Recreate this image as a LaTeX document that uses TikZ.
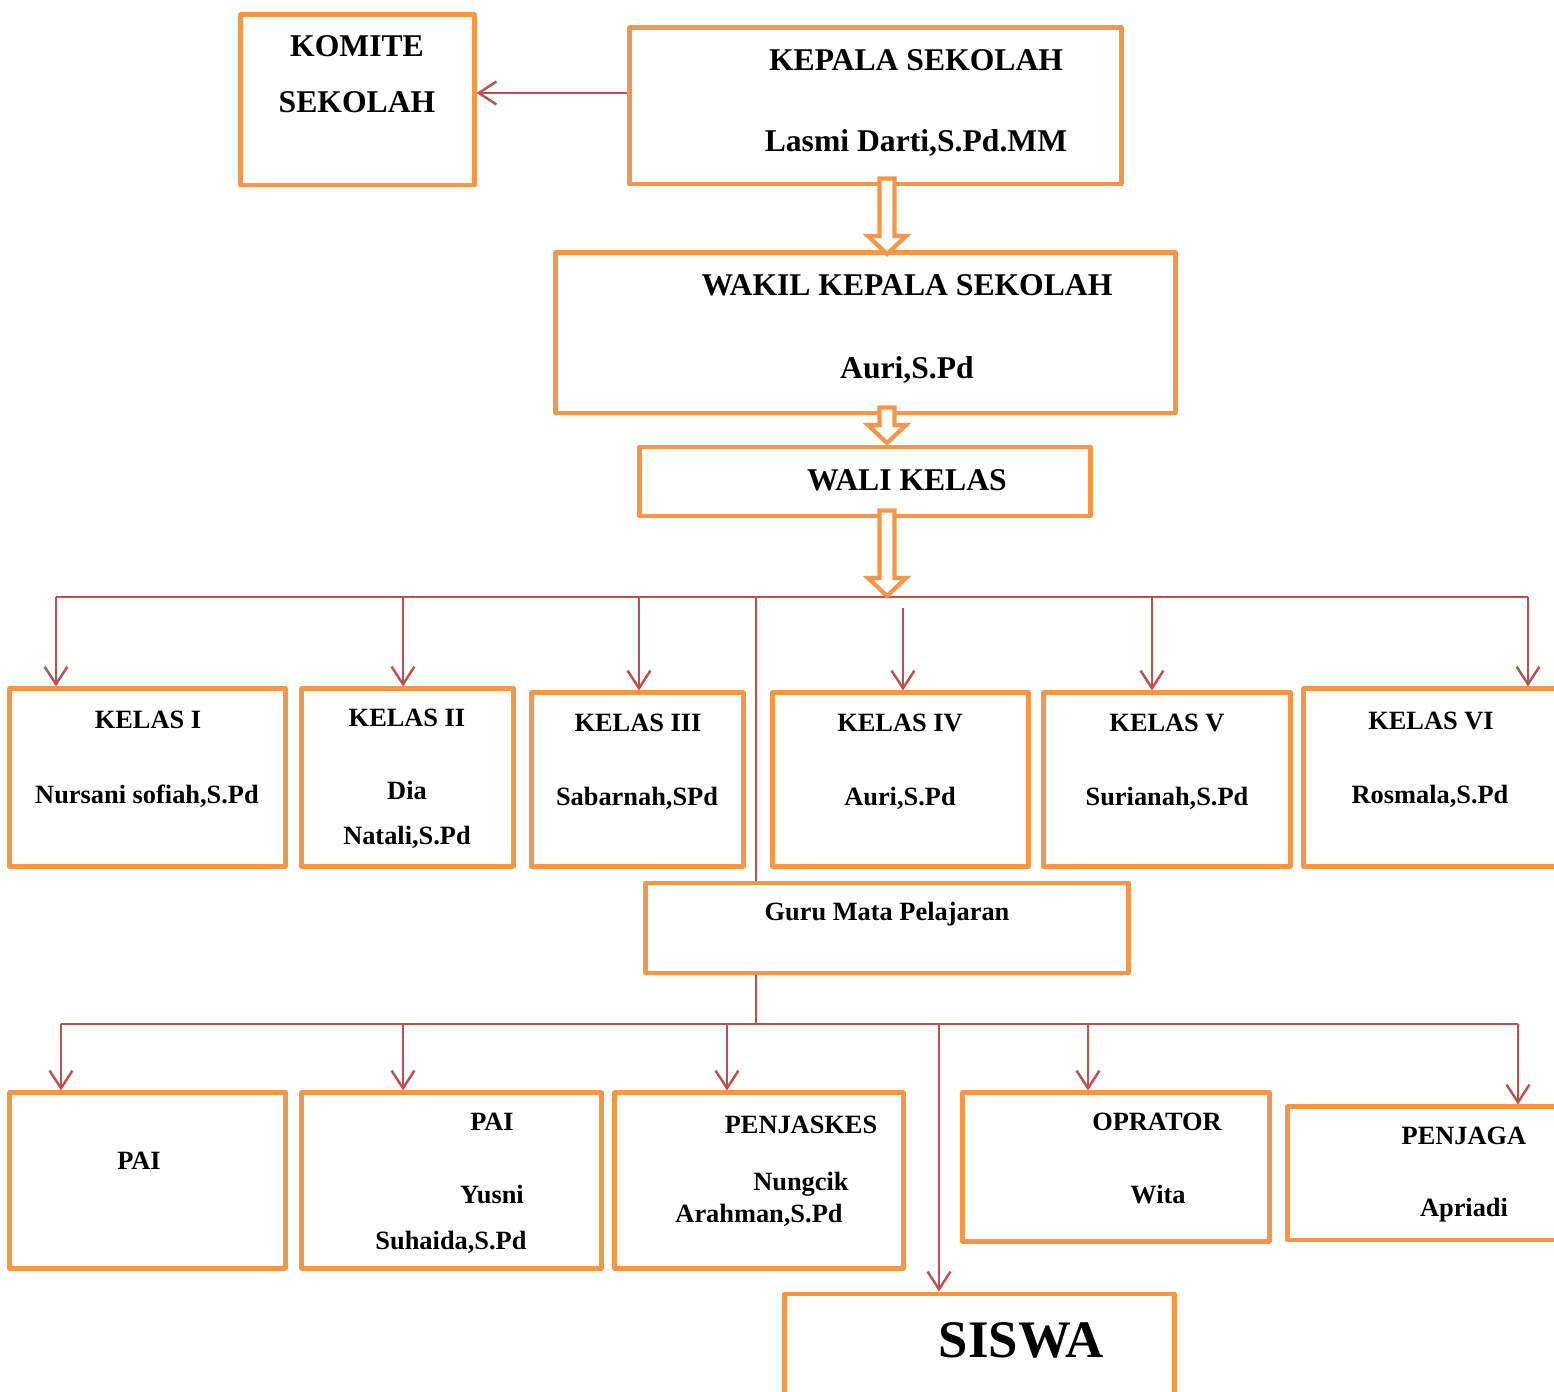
\documentclass[tikz,border=0pt]{standalone}
\usepackage{fontspec}
\setmainfont{Liberation Serif}
\usetikzlibrary{arrows.meta,calc}
\definecolor{boxorange}{HTML}{F79646}
\definecolor{linkred}{HTML}{C0504D}
\begin{document}
\begin{tikzpicture}[x=0.01cm, y=-0.01cm, >={Straight Barb[length=5pt,width=6.5pt]},
        box/.style={draw=boxorange, line width=1.4pt, line join=round, inner sep=0pt},
        link/.style={draw=linkred, line width=0.7pt},
        hollow/.style={draw=boxorange, fill=white, line width=1.2pt},
        big/.style={font=\fontsize{9}{11}\selectfont\bfseries, inner sep=0pt, text height=6pt, text depth=0pt},
        small/.style={font=\fontsize{7.5}{9}\selectfont\bfseries, inner sep=0pt, text height=5pt, text depth=0pt}]
        \useasboundingbox (0,0) rectangle (1554,1392);
        % top part
        \node[box, minimum width=2.33cm, minimum height=1.70cm] (komite) at (357.5,100) {};
        \node[box, minimum width=4.91cm, minimum height=1.56cm] (kepala) at (875.5,106) {};
        \node[box, minimum width=6.19cm, minimum height=1.60cm] (wakil) at (865.5,333) {};
        \node[box, minimum width=4.50cm, minimum height=0.69cm] (wali) at (865,481.5) {};
        \node[big] (tkomite1) at (357,46) {KOMITE};
        \node[big] (tkomite2) at (357,102) {SEKOLAH};
        \node[big] (tkepala1) at (916,60) {KEPALA SEKOLAH};
        \node[big] (tkepala2) at (916,141) {Lasmi Darti,S.Pd.MM};
        \node[big] (twakil1) at (907,285) {WAKIL KEPALA SEKOLAH};
        \node[big] (twakil2) at (907,368) {Auri,S.Pd};
        \node[big] (twali) at (907,480) {WALI KELAS};
        \draw[link,->] ($(kepala.west)+(0,-13)$) coordinate (k0) -- (komite.east |- k0);
        % kelas
        \node[box, minimum width=2.75cm, minimum height=1.77cm] (k1) at (147.5,777.5) {};
        \node[box, minimum width=2.11cm, minimum height=1.77cm] (k2) at (407.5,777.5) {};
        \node[box, minimum width=2.11cm, minimum height=1.73cm] (k3) at (637.5,779.5) {};
        \node[box, minimum width=2.55cm, minimum height=1.73cm] (k4) at (900.5,779.5) {};
        \node[box, minimum width=2.46cm, minimum height=1.73cm] (k5) at (1167,779.5) {};
        \node[box, minimum width=2.56cm, minimum height=1.77cm] (k6) at (1432,777.5) {};
        \node[small] (tk1a) at (148,720) {KELAS I};
        \node[small] (tk1b) at (147,795) {Nursani sofiah,S.Pd};
        \node[small] (tk2a) at (407,718) {KELAS II};
        \node[small] (tk2b) at (407,791) {Dia};
        \node[small] (tk2c) at (407,836) {Natali,S.Pd};
        \node[small] (tk3a) at (638,723) {KELAS III};
        \node[small] (tk3b) at (637,797) {Sabarnah,SPd};
        \node[small] (tk4a) at (900,723) {KELAS IV};
        \node[small] (tk4b) at (900,797) {Auri,S.Pd};
        \node[small] (tk5a) at (1167,723) {KELAS V};
        \node[small] (tk5b) at (1167,797) {Surianah,S.Pd};
        \node[small] (tk6a) at (1431,721) {KELAS VI};
        \node[small] (tk6b) at (1430,795) {Rosmala,S.Pd};
        % guru and bottom row
        \node[box, minimum width=4.82cm, minimum height=0.90cm] (guru) at (887,928) {};
        \node[small] (tguru) at (887,912) {Guru Mata Pelajaran};
        \node[box, minimum width=2.75cm, minimum height=1.75cm] (b1) at (147.5,1180.5) {};
        \node[box, minimum width=2.99cm, minimum height=1.75cm] (b2) at (451.5,1180.5) {};
        \node[box, minimum width=2.88cm, minimum height=1.75cm] (b3) at (759,1180.5) {};
        \node[box, minimum width=3.06cm, minimum height=1.48cm] (b4) at (1116,1167) {};
        \node[box, minimum width=2.72cm, minimum height=1.33cm] (b5) at (1424,1173.5) {};
        \node[box, minimum width=3.89cm, minimum height=1.26cm] (siswa) at (979.5,1357) {};
        \node[small] (tb1) at (139,1161) {PAI};
        \node[small] (tb2a) at (492,1122) {PAI};
        \node[small] (tb2b) at (492,1195) {Yusni};
        \node[small] (tb2c) at (451,1241) {Suhaida,S.Pd};
        \node[small] (tb3a) at (801,1125) {PENJASKES};
        \node[small] (tb3b) at (801,1182) {Nungcik};
        \node[small] (tb3c) at (759,1214) {Arahman,S.Pd};
        \node[small] (tb4a) at (1157,1122) {OPRATOR};
        \node[small] (tb4b) at (1158,1195) {Wita};
        \node[small] (tb5a) at (1464,1136) {PENJAGA};
        \node[small] (tb5b) at (1464,1208) {Apriadi};
        \node[font=\fontsize{15}{18}\selectfont\bfseries, inner sep=0pt, text height=10pt, text depth=0pt] (tsiswa) at (1021,1340) {SISWA};
        % red connectors
        \coordinate (bus) at (0,597);
        \coordinate (bus2) at (0,1024);
        \coordinate (gx) at (756,0);
        \coordinate (sx) at (939,0);
        \foreach \n/\x in {1/56,2/403,3/639,4/903,5/1152,6/1528}
            \coordinate (d\n) at (\x,0);
        \foreach \n/\x in {1/61,2/403,3/727,4/1088,5/1518}
            \coordinate (e\n) at (\x,0);
        \draw[link] (d1 |- bus) -- (d6 |- bus);
        \foreach \n in {1,2,3,5,6}
            \draw[link,->] (d\n |- bus) -- (d\n |- k\n.north);
        \draw[link,->] (d4 |- bus) ++(0,11) -- (d4 |- k4.north);
        \draw[link] (gx |- bus) -- (gx |- guru.north);
        \draw[link] (gx |- guru.south) -- (gx |- bus2);
        \draw[link] (e1 |- bus2) -- (e5 |- bus2);
        \foreach \n in {1,...,5}
            \draw[link,->] (e\n |- bus2) -- (e\n |- b\n.north);
        \draw[link,->] (sx |- bus2) -- (sx |- siswa.north);
        % hollow arrows
        \coordinate (ax) at (887,0);
        \foreach \a/\l in {kepala/57.5,wakil/17.5,wali/67.5}
            \draw[hollow] (ax |- \a.south) ++(-7.5,-8) -- ++(0,\l) -- ++(-11.5,0) -- ++(19,18) -- ++(19,-18) -- ++(-11.5,0) -- ++(0,-\l) -- cycle;
    \end{tikzpicture}
\end{document}
